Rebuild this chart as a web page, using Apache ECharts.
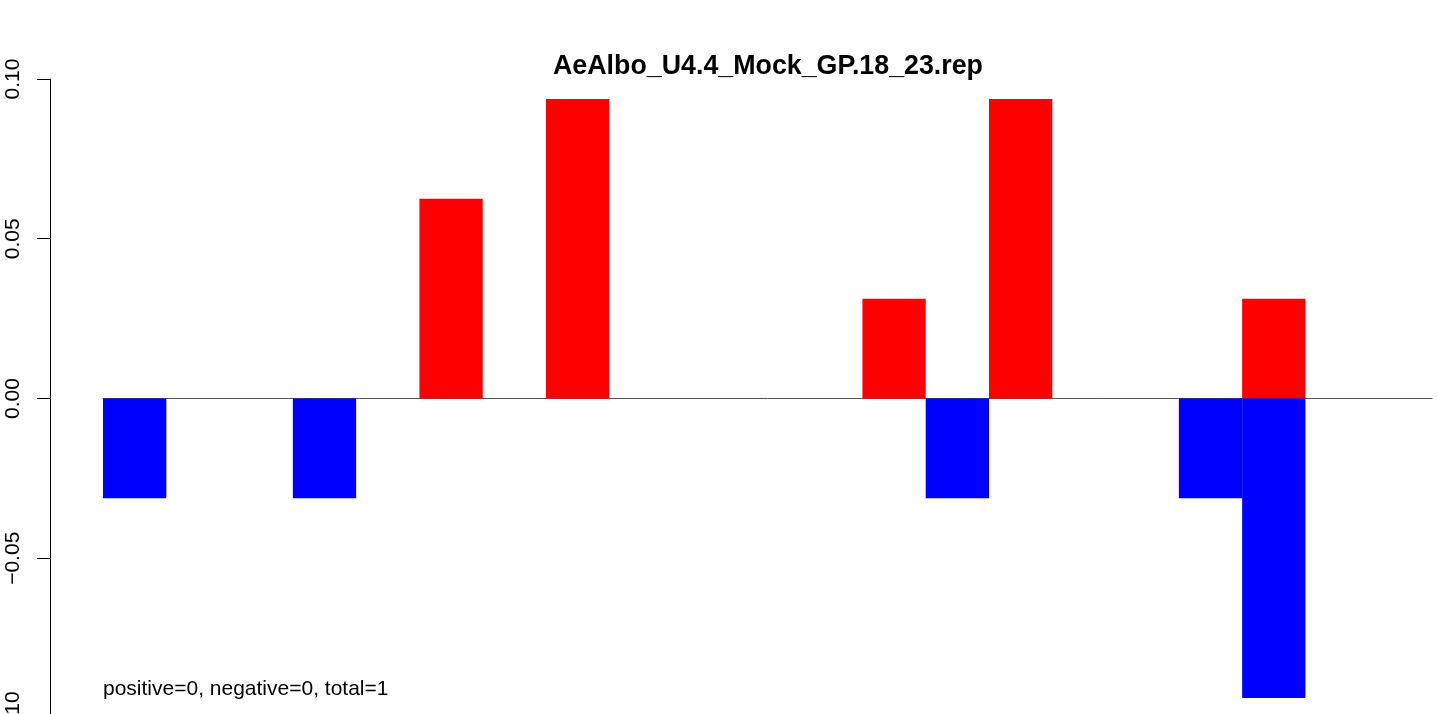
<!DOCTYPE html>
<html>
<head>
<meta charset="utf-8">
<script src="https://cdn.jsdelivr.net/npm/echarts@6/dist/echarts.min.js"></script>
<style>
html,body{margin:0;padding:0;background:#fff;}
#chart{width:1439px;height:714px;}
</style>
</head>
<body>
<div id="chart"></div>
<script>
const titleText = "AeAlbo_U4.4_Mock_GP.18_23.rep";
const noteText = "positive=0, negative=0, total=1";
const categories = ["1","2","3","4","5","6","7","8","9","10","11","12","13","14","15","16","17","18","19","20","21"];
const positiveValues = [null,null,null,null,null,0.0625,null,0.09375,null,null,null,null,0.03125,null,0.09375,null,null,null,0.03125,null,null];
const negativeValues = [-0.03125,null,null,-0.03125,null,null,null,null,null,null,null,null,null,-0.03125,null,null,null,-0.03125,-0.09375,null,null];
const yTicks = [-0.10, -0.05, 0.00, 0.05, 0.10];

const FONT = "'Liberation Sans', Arial, Helvetica, sans-serif";
const chart = echarts.init(document.getElementById('chart'), null, {renderer: 'canvas'});
chart.setOption({
  animation: false,
  backgroundColor: '#ffffff',
  title: {
    text: titleText,
    left: 763,
    textAlign: 'center',
    top: 48,
    textStyle: {fontFamily: FONT, fontWeight: 'bold', fontSize: 26.8, color: '#000'}
  },
  grid: {left: 103, top: 79, width: 1329, height: 639, outerBoundsMode: 'none', containLabel: false},
  xAxis: {
    type: 'category',
    data: categories,
    boundaryGap: true,
    axisLine: {show: true, onZero: true, lineStyle: {color: '#555', width: 1}},
    axisTick: {show: false},
    axisLabel: {show: false},
    splitLine: {show: false}
  },
  yAxis: {
    type: 'value',
    min: yTicks[0],
    max: yTicks[yTicks.length - 1],
    interval: 0.05,
    offset: 53,
    axisLine: {show: true, lineStyle: {color: '#000', width: 1}},
    axisTick: {show: true, length: 13, lineStyle: {color: '#000', width: 1}},
    splitLine: {show: false},
    axisLabel: {
      rotate: 90,
      margin: 26,
      fontFamily: FONT,
      fontSize: 21,
      color: '#000',
      formatter: v => v.toFixed(2).replace('-', '\u2212')
    }
  },
  series: [
    {
      name: 'positive',
      type: 'bar',
      data: positiveValues,
      barWidth: '100%',
      barGap: '-100%',
      itemStyle: {color: '#ff0000'}
    },
    {
      name: 'negative',
      type: 'bar',
      data: negativeValues,
      barWidth: '100%',
      barGap: '-100%',
      itemStyle: {color: '#0000ff'}
    }
  ],
  graphic: [{
    type: 'text',
    left: 103,
    top: 679,
    style: {text: noteText, font: '21px ' + FONT, fill: '#000'}
  }]
});
</script>
</body>
</html>
